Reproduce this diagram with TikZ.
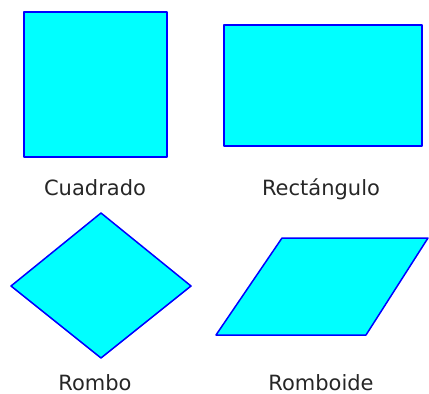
\documentclass[tikz,border=0pt]{standalone}
\usepackage{fontspec}
\setmainfont{DejaVu Sans}
\definecolor{celeste}{RGB}{0,255,255}
\definecolor{azul}{RGB}{0,0,255}
\tikzset{
	figura/.style = {draw=azul, fill=celeste, line width=1.5pt, line join=round},
	etiqueta/.style = {anchor=base, inner sep=0pt, font=\fontsize{21}{25}\selectfont, text=black!85}
}
\begin{document}
\begin{tikzpicture}[x=1pt, y=-1pt]
	\useasboundingbox (0,0) rectangle (429,394);
	\draw[figura] (24,12) rectangle (167,157);
	\draw[figura, line width=2pt] (224,25) rectangle (422,146);
	\draw[figura] (11,286) -- (101,213) -- (191,286) -- (101,358) -- cycle;
	\draw[figura] (216,335) -- (282,238) -- (428,238) -- (366,335) -- cycle;
	\node[etiqueta] (cuadrado) at (95,195) {Cuadrado};
	\node[etiqueta] (rectangulo) at (321,195) {Rectángulo};
	\node[etiqueta] (rombo) at (95,390) {Rombo};
	\node[etiqueta] (romboide) at (321,390) {Romboide};
	%\draw (0,0) rectangle (429,394);
\end{tikzpicture}
\end{document}
